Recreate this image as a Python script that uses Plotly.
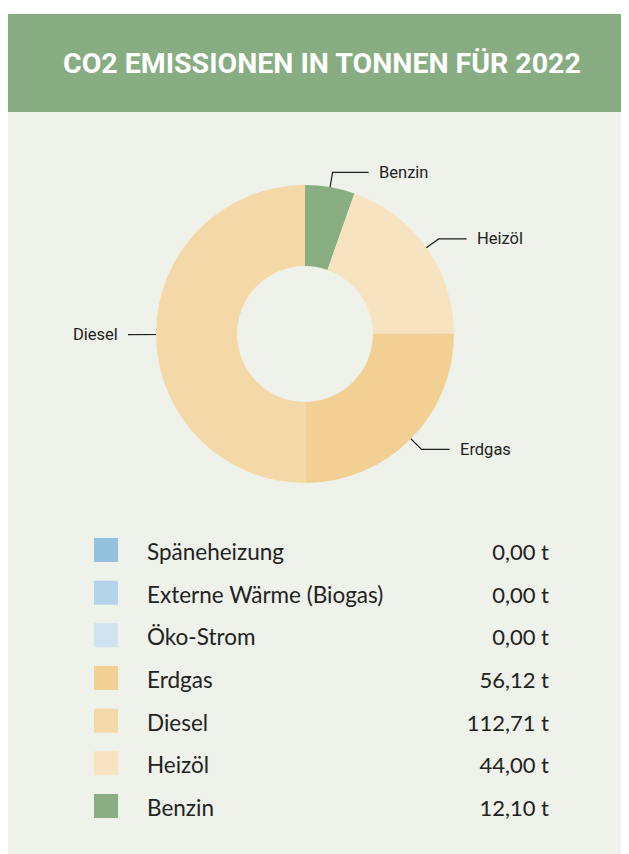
import math
import plotly.graph_objects as go

# ---------------- data ----------------
title_text = "CO2 EMISSIONEN IN TONNEN FÜR 2022"
categories = ["Späneheizung", "Externe Wärme (Biogas)", "Öko-Strom",
              "Erdgas", "Diesel", "Heizöl", "Benzin"]
values = [0.00, 0.00, 0.00, 56.12, 112.71, 44.00, 12.10]
colors = ["#93C2DF", "#B3D3EA", "#CFE2F0",
          "#F2CF93", "#F5D8A8", "#F8E3C0", "#88AE82"]
pie_order = ["Benzin", "Heizöl", "Erdgas", "Diesel"]   # clockwise from 12 o'clock

# ---------------- layout constants (screen pixels) ----------------
W, H = 629, 854
OFF = 8            # page body margin: figure origin sits at screen (8, 8)
cx, cy, R = 305, 334, 149
hole = 0.456
arm = {"Benzin": 36, "Heizöl": 28, "Erdgas": 28, "Diesel": 13}
r0, r1 = 139, 164
TEXT_DY = 4.5      # table text sits slightly lower than the swatches


def px(x):
    return (x - OFF) / W


def py(y):
    return 1 - (y - OFF) / H


val_of = dict(zip(categories, values))
col_of = dict(zip(categories, colors))
value_labels = [f"{v:.2f}".replace(".", ",") + " t" for v in values]

fig = go.Figure()

# donut
pie_vals = [val_of[c] for c in pie_order]
fig.add_trace(go.Pie(
    labels=pie_order, values=pie_vals, sort=False, direction="clockwise",
    rotation=0, hole=hole, textinfo="none", hoverinfo="label+value",
    marker=dict(colors=[col_of[c] for c in pie_order], line=dict(width=0)),
    domain=dict(x=[px(cx - R), px(cx + R)], y=[py(cy + R), py(cy - R)]),
    showlegend=False,
))

# connectors + labels computed from slice angles
total = sum(pie_vals)
cum = 0.0
annotations = []
for name, v in zip(pie_order, pie_vals):
    mid = (cum + v / 2) / total * 2 * math.pi
    cum += v
    s, c = math.sin(mid), math.cos(mid)
    side = 1 if s >= 0 else -1
    x0, y0 = cx + r0 * s, cy - r0 * c
    x1, y1 = cx + r1 * s, cy - r1 * c
    x2 = x1 + side * arm[name]
    fig.add_trace(go.Scatter(
        x=[x0, x1, x2], y=[y0, y1, y1], mode="lines",
        line=dict(color="#1e1e1e", width=1.2), hoverinfo="skip",
        showlegend=False, xaxis="x", yaxis="y"))
    annotations.append(dict(
        x=x2 + side * 8, y=y1, xref="x", yref="y", text=name, showarrow=False,
        xanchor="left" if side > 0 else "right", yanchor="middle",
        font=dict(family="Roboto", size=16.5, color="#222222")))

# table legend
n = len(categories)
idx = list(range(n))
fig.add_trace(go.Scatter(
    x=[106] * n, y=idx, mode="markers", xaxis="x", yaxis="y2",
    marker=dict(symbol="square", size=24, color=colors, line=dict(width=0)),
    hoverinfo="skip", showlegend=False))
fig.add_trace(go.Scatter(
    x=[147] * n, y=idx, mode="text", text=categories, xaxis="x", yaxis="y3",
    textposition="middle right",
    textfont=dict(family="Lato", size=22.5, color="#222222"),
    hoverinfo="skip", showlegend=False))
fig.add_trace(go.Scatter(
    x=[549] * n, y=idx, mode="text", text=value_labels, xaxis="x", yaxis="y3",
    textposition="middle left",
    textfont=dict(family="Lato", size=22, color="#222222"),
    hoverinfo="skip", showlegend=False))

annotations.append(dict(
    x=px(322), y=py(64), xref="paper", yref="paper",
    text="<b>" + title_text + "</b>", showarrow=False,
    xanchor="center", yanchor="middle",
    font=dict(family="Roboto", size=28.5, color="#ffffff")))

row_top, row_bot = 528.7, 827.3
fig.update_layout(
    width=W, height=H, margin=dict(l=0, r=0, t=0, b=0),
    paper_bgcolor="#ffffff", plot_bgcolor="rgba(0,0,0,0)",
    xaxis=dict(range=[OFF, W + OFF], domain=[0, 1], visible=False, fixedrange=True),
    yaxis=dict(range=[H + OFF, OFF], domain=[0, 1], visible=False, fixedrange=True),
    yaxis2=dict(range=[n - 0.5, -0.5], domain=[py(row_bot), py(row_top)],
                anchor="x", visible=False, fixedrange=True),
    yaxis3=dict(range=[n - 0.5, -0.5],
                domain=[py(row_bot + TEXT_DY), py(row_top + TEXT_DY)],
                anchor="x", visible=False, fixedrange=True),
    shapes=[
        dict(type="rect", xref="paper", yref="paper", x0=px(7), x1=1,
             y0=0, y1=py(14), fillcolor="#EEF2EA", line=dict(width=0),
             layer="below"),
        dict(type="rect", xref="paper", yref="paper", x0=px(7), x1=1,
             y0=py(112), y1=py(14), fillcolor="#88AD82",
             line=dict(width=0), layer="below"),
    ],
    annotations=annotations,
    showlegend=False,
)

fig.write_html("out.html")
